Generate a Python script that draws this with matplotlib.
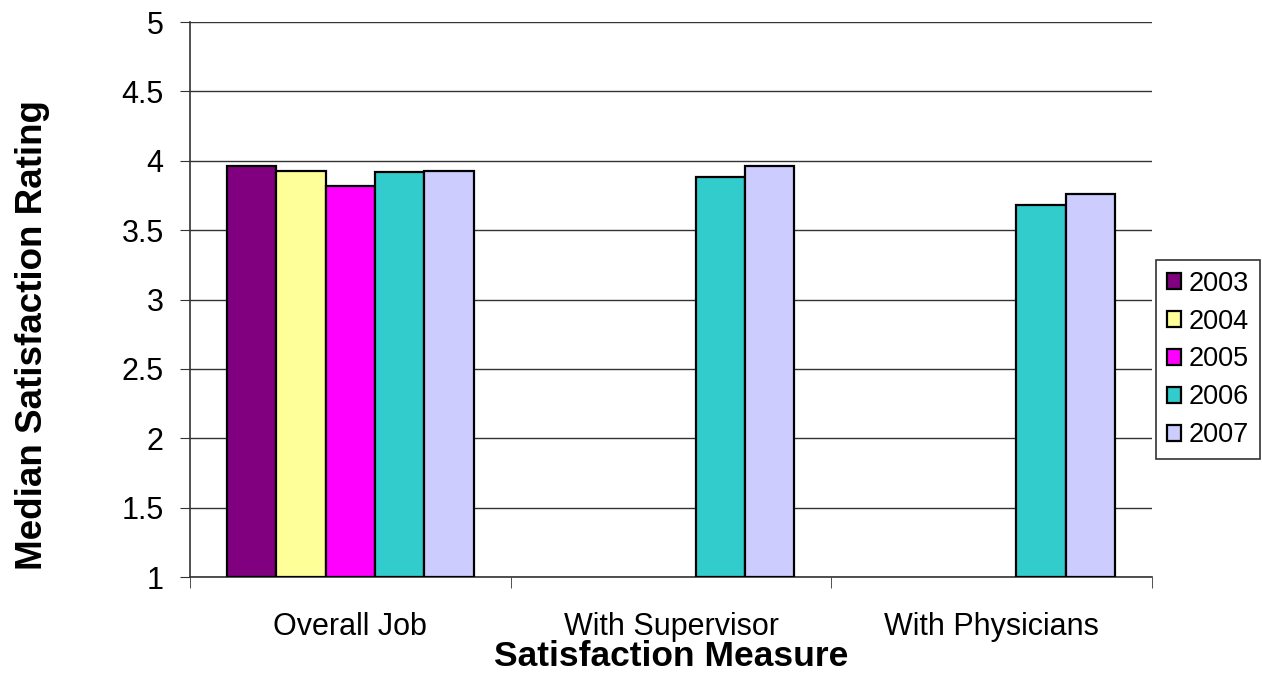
import numpy as np
import matplotlib.pyplot as plt

plt.rcParams['font.family'] = ['Liberation Sans', 'DejaVu Sans']

measures = ['Overall Job', 'With Supervisor', 'With Physicians']
years = ['2003', '2004', '2005', '2006', '2007']
colors = ['#800080', '#FFFF99', '#FF00FF', '#33CCCC', '#CCCCFF']

# median rating per year; nan where a measure was not asked
r2003 = [3.96, np.nan, np.nan]
r2004 = [3.925, np.nan, np.nan]
r2005 = [3.82, np.nan, np.nan]
r2006 = [3.92, 3.88, 3.68]
r2007 = [3.925, 3.96, 3.76]
ratings = [r2003, r2004, r2005, r2006, r2007]

fig = plt.figure(figsize=(12.62, 6.77), dpi=100)
ax = fig.add_axes([0.1506, 0.1477, 0.7622, 0.8198])

x = np.arange(len(measures))
w = 0.154
base = 1
for i, (yr, vals, c) in enumerate(zip(years, ratings, colors)):
    h = np.array(vals) - base
    ax.bar(x + (i - 2) * w, h, w, bottom=base, color=c, edgecolor='black',
           linewidth=1.6, label=yr, zorder=3)

ax.set_xlim(-0.5, 2.5)
ax.set_ylim(1, 5)
ax.set_yticks(np.arange(1, 5.01, 0.5))
ax.set_yticklabels(['1', '1.5', '2', '2.5', '3', '3.5', '4', '4.5', '5'])
ax.yaxis.grid(True, color='#333333', linewidth=1.0, zorder=0)

ax.set_xticks(x)
ax.set_xticklabels(measures)
ax.set_xticks([-0.5, 0.5, 1.5, 2.5], minor=True)
ax.tick_params(axis='x', which='major', length=0, pad=25, labelsize=22)
ax.tick_params(axis='x', which='minor', length=8, color='#333333')
ax.tick_params(axis='y', length=7, labelsize=22, color='#333333', pad=12)

for s in ['top', 'right']:
    ax.spines[s].set_visible(False)
ax.spines['left'].set_color('#333333')
ax.spines['bottom'].set_color('#333333')
ax.spines['left'].set_linewidth(1.2)
ax.spines['bottom'].set_linewidth(1.2)

ax.set_xlabel('Satisfaction Measure', fontsize=25.5, fontweight='bold', labelpad=-1)
ax.set_ylabel('Median Satisfaction Rating', fontsize=26.5, fontweight='bold')
ax.yaxis.set_label_coords(-0.1455, 0.436)

leg = fig.legend(loc='center left', bbox_to_anchor=(0.916, 0.469), fontsize=19.5,
                 frameon=True, fancybox=False, edgecolor='black',
                 handlelength=0.52, handleheight=0.52, handletextpad=0.3,
                 labelspacing=0.44, borderpad=0.4, borderaxespad=0)
leg.get_frame().set_linewidth(1.2)

fig.savefig('out.png', dpi=100)
